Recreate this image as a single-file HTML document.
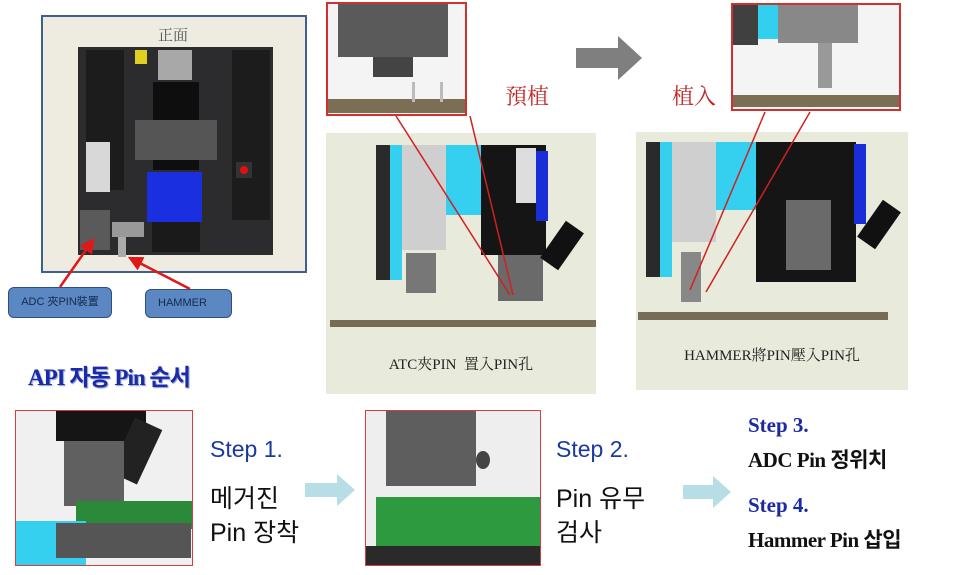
<!DOCTYPE html>
<html><head><meta charset="utf-8"><style>
*{margin:0;padding:0;box-sizing:border-box}
body{width:960px;height:575px;background:#fff;position:relative;overflow:hidden;font-family:"Liberation Sans","Noto Sans CJK KR",sans-serif}
.a{position:absolute}
.serif{font-family:"Liberation Serif","Noto Serif CJK SC","Noto Sans CJK KR",serif}
</style></head><body>

<!-- Panel 1 -->
<div class="a" style="left:41px;top:15px;width:266px;height:258px;background:#eeebe1;border:2px solid #3f5f8c"></div>
<div class="a serif" style="left:158px;top:24px;font-size:15px;color:#555">正面</div>
<div class="a" style="left:78px;top:47px;width:195px;height:208px;background:#2c2c2e"></div>
<div class="a" style="left:86px;top:50px;width:38px;height:140px;background:#1c1c1c"></div>
<div class="a" style="left:232px;top:50px;width:38px;height:170px;background:#1c1c1c"></div>
<div class="a" style="left:158px;top:50px;width:34px;height:30px;background:#a8a8a8"></div>
<div class="a" style="left:135px;top:50px;width:12px;height:14px;background:#e0d020"></div>
<div class="a" style="left:153px;top:82px;width:46px;height:88px;background:#0e0e0e"></div>
<div class="a" style="left:135px;top:120px;width:82px;height:40px;background:#555"></div>
<div class="a" style="left:147px;top:172px;width:55px;height:50px;background:#1a30e0"></div>
<div class="a" style="left:152px;top:222px;width:48px;height:30px;background:#1a1a1a"></div>
<div class="a" style="left:86px;top:142px;width:24px;height:50px;background:#d8d8d8"></div>
<div class="a" style="left:80px;top:210px;width:30px;height:40px;background:#5a5a5a"></div>
<div class="a" style="left:112px;top:222px;width:32px;height:15px;background:#999"></div>
<div class="a" style="left:118px;top:237px;width:8px;height:20px;background:#aaa"></div>
<div class="a" style="left:236px;top:162px;width:16px;height:16px;background:#333"><div style="margin:4px;width:8px;height:8px;border-radius:50%;background:#e01010"></div></div>

<!-- labels -->
<div class="a" style="left:8px;top:287px;width:104px;height:31px;background:#5b87c3;border:1px solid #2f4f80;border-radius:6px;color:#142a50;font-size:11px;line-height:29px;text-align:center;font-family:'Liberation Sans','Noto Sans CJK TC',sans-serif">ADC 夾PIN裝置</div>
<div class="a" style="left:145px;top:289px;width:87px;height:29px;background:#5b87c3;border:1px solid #2f4f80;border-radius:6px;color:#142a50;font-size:11px;line-height:27px;padding-left:12px">HAMMER</div>

<!-- Middle top zoom box -->
<div class="a" style="left:326px;top:2px;width:141px;height:114px;background:#f4f4f4;border:2px solid #d03030;overflow:hidden">
 <div class="a" style="left:10px;top:-2px;width:110px;height:55px;background:#5a5a5a"></div>
 <div class="a" style="left:45px;top:53px;width:40px;height:20px;background:#444"></div>
 <div class="a" style="left:0;top:95px;width:141px;height:14px;background:#7a6e55"></div>
 <div class="a" style="left:84px;top:78px;width:3px;height:20px;background:#bbb"></div>
 <div class="a" style="left:112px;top:78px;width:3px;height:20px;background:#bbb"></div>
</div>
<div class="a serif" style="left:505px;top:80px;font-size:22px;color:#c02828;font-family:'Liberation Serif','Noto Serif CJK SC',serif">預植</div>

<!-- gray arrow -->
<svg class="a" style="left:576px;top:36px" width="66" height="44"><path d="M0,12H42V0L66,22L42,44V32H0z" fill="#7f7f7f"/></svg>
<div class="a" style="left:672px;top:80px;font-size:22px;color:#c02828;font-family:'Liberation Serif','Noto Serif CJK SC',serif">植入</div>

<!-- right top zoom box -->
<div class="a" style="left:731px;top:3px;width:170px;height:108px;background:#f4f4f4;border:2px solid #d03030;overflow:hidden">
 <div class="a" style="left:0;top:0;width:25px;height:40px;background:#404040"></div>
 <div class="a" style="left:25px;top:0;width:20px;height:34px;background:#33cfee"></div>
 <div class="a" style="left:45px;top:0;width:80px;height:38px;background:#888"></div>
 <div class="a" style="left:85px;top:38px;width:14px;height:45px;background:#999"></div>
 <div class="a" style="left:0;top:90px;width:170px;height:12px;background:#7a6e55"></div>
</div>

<!-- middle lower panel -->
<div class="a" style="left:326px;top:133px;width:270px;height:261px;background:#e8eadb">
 <div class="a" style="left:50px;top:12px;width:14px;height:135px;background:#2a2a2a"></div>
 <div class="a" style="left:64px;top:12px;width:12px;height:135px;background:#35d0f0"></div>
 <div class="a" style="left:76px;top:12px;width:44px;height:105px;background:#cfcfcf"></div>
 <div class="a" style="left:120px;top:12px;width:35px;height:70px;background:#35d0f0"></div>
 <div class="a" style="left:155px;top:12px;width:65px;height:110px;background:#151515"></div>
 <div class="a" style="left:190px;top:15px;width:20px;height:55px;background:#ddd"></div>
 <div class="a" style="left:210px;top:18px;width:12px;height:70px;background:#1a2ed8"></div>
 <div class="a" style="left:172px;top:122px;width:45px;height:46px;background:#6a6a6a"></div>
 <div class="a" style="left:80px;top:120px;width:30px;height:40px;background:#777"></div>
 <div class="a" style="left:225px;top:90px;width:22px;height:45px;background:#111;transform:rotate(35deg)"></div>
 <div class="a" style="left:4px;top:187px;width:266px;height:7px;background:#776c55"></div>
 <div class="a serif" style="left:0;top:220px;width:270px;text-align:center;font-size:15px;color:#222;font-family:'Liberation Serif','Noto Serif CJK TC',serif">ATC夾PIN&nbsp; 置入PIN孔</div>
</div>

<!-- right lower panel -->
<div class="a" style="left:636px;top:132px;width:272px;height:258px;background:#e8eadb">
 <div class="a" style="left:10px;top:10px;width:14px;height:135px;background:#2a2a2a"></div>
 <div class="a" style="left:24px;top:10px;width:12px;height:135px;background:#35d0f0"></div>
 <div class="a" style="left:36px;top:10px;width:44px;height:100px;background:#cfcfcf"></div>
 <div class="a" style="left:80px;top:10px;width:40px;height:68px;background:#35d0f0"></div>
 <div class="a" style="left:120px;top:10px;width:100px;height:140px;background:#151515"></div>
 <div class="a" style="left:218px;top:12px;width:12px;height:80px;background:#1a2ed8"></div>
 <div class="a" style="left:150px;top:68px;width:45px;height:70px;background:#6a6a6a"></div>
 <div class="a" style="left:45px;top:120px;width:20px;height:50px;background:#888"></div>
 <div class="a" style="left:232px;top:70px;width:22px;height:45px;background:#111;transform:rotate(35deg)"></div>
 <div class="a" style="left:2px;top:180px;width:250px;height:8px;background:#776c55"></div>
 <div class="a serif" style="left:0;top:212px;width:272px;text-align:center;font-size:15px;color:#222;font-family:'Liberation Serif','Noto Serif CJK TC',serif">HAMMER將PIN壓入PIN孔</div>
</div>

<svg class="a" style="left:0;top:0;z-index:5" width="960" height="575">
<defs><marker id="ar" markerWidth="6" markerHeight="6" refX="5" refY="3" orient="auto"><path d="M0,0L6,3L0,6z" fill="#e01818"/></marker></defs>
<line x1="60" y1="287" x2="93" y2="240" stroke="#e01818" stroke-width="2.5" marker-end="url(#ar)"/>
<line x1="190" y1="289" x2="130" y2="258" stroke="#e01818" stroke-width="2.5" marker-end="url(#ar)"/>
<line x1="396" y1="116" x2="510" y2="295" stroke="#d02020" stroke-width="1.5"/>
<line x1="470" y1="116" x2="513" y2="295" stroke="#d02020" stroke-width="1.5"/>
<line x1="765" y1="112" x2="690" y2="290" stroke="#d02020" stroke-width="1.5"/>
<line x1="810" y1="112" x2="706" y2="292" stroke="#d02020" stroke-width="1.5"/>
</svg>

<!-- title -->
<div class="a" style="left:28px;top:358px;font-size:23px;font-weight:bold;color:#1a2aa8;text-shadow:1px 1px 1px #8899cc;font-family:'Liberation Serif','Noto Sans CJK KR',serif;letter-spacing:-1px">API 자동 Pin 순서</div>

<!-- bottom photo 1 -->
<div class="a" style="left:15px;top:410px;width:178px;height:156px;background:#f0f0f0;border:1px solid #d04040;overflow:hidden">
 <div class="a" style="left:40px;top:0;width:90px;height:30px;background:#151515"></div>
 <div class="a" style="left:105px;top:10px;width:30px;height:60px;background:#222;transform:rotate(25deg)"></div>
 <div class="a" style="left:48px;top:30px;width:60px;height:65px;background:#606060"></div>
 <div class="a" style="left:60px;top:90px;width:120px;height:28px;background:#2a8a3a"></div>
 <div class="a" style="left:0;top:110px;width:70px;height:46px;background:#35d0f0"></div>
 <div class="a" style="left:40px;top:112px;width:135px;height:35px;background:#555"></div>
</div>
<div class="a" style="left:210px;top:436px;font-size:23px;color:#1a3aa0">Step 1.</div>
<div class="a" style="left:210px;top:482px;font-size:25px;color:#111;line-height:34px">메거진<br>Pin 장착</div>
<svg class="a" style="left:305px;top:474px" width="50" height="32"><path d="M0,9H32V0L50,16L32,32V23H0z" fill="#b7dde6"/></svg>

<!-- bottom photo 2 -->
<div class="a" style="left:365px;top:410px;width:176px;height:156px;background:#eee;border:1px solid #d04040;overflow:hidden">
 <div class="a" style="left:20px;top:0;width:90px;height:75px;background:#5e5e5e"></div>
 <div class="a" style="left:10px;top:86px;width:166px;height:60px;background:#2e9a40"></div>
 <div class="a" style="left:0;top:135px;width:176px;height:21px;background:#2a2a2a"></div>
 <div class="a" style="left:110px;top:40px;width:14px;height:18px;background:#444;border-radius:50%"></div>
</div>
<div class="a" style="left:556px;top:436px;font-size:23px;color:#1a3aa0">Step 2.</div>
<div class="a" style="left:556px;top:482px;font-size:25px;color:#111;line-height:34px">Pin 유무<br>검사</div>
<svg class="a" style="left:683px;top:476px" width="48" height="32"><path d="M0,9H30V0L48,16L30,32V23H0z" fill="#b7dde6"/></svg>

<div class="a serif" style="left:748px;top:413px;font-size:21px;color:#1a2aa0;font-weight:bold">Step 3.</div>
<div class="a serif" style="left:748px;top:444px;font-size:21px;color:#111;font-weight:bold;font-family:'Liberation Serif','Noto Sans CJK KR',serif;letter-spacing:-0.5px">ADC Pin 정위치</div>
<div class="a serif" style="left:748px;top:493px;font-size:21px;color:#1a2aa0;font-weight:bold">Step 4.</div>
<div class="a serif" style="left:748px;top:524px;font-size:21px;color:#111;font-weight:bold;font-family:'Liberation Serif','Noto Sans CJK KR',serif;letter-spacing:-0.5px">Hammer Pin 삽입</div>

</body></html>
